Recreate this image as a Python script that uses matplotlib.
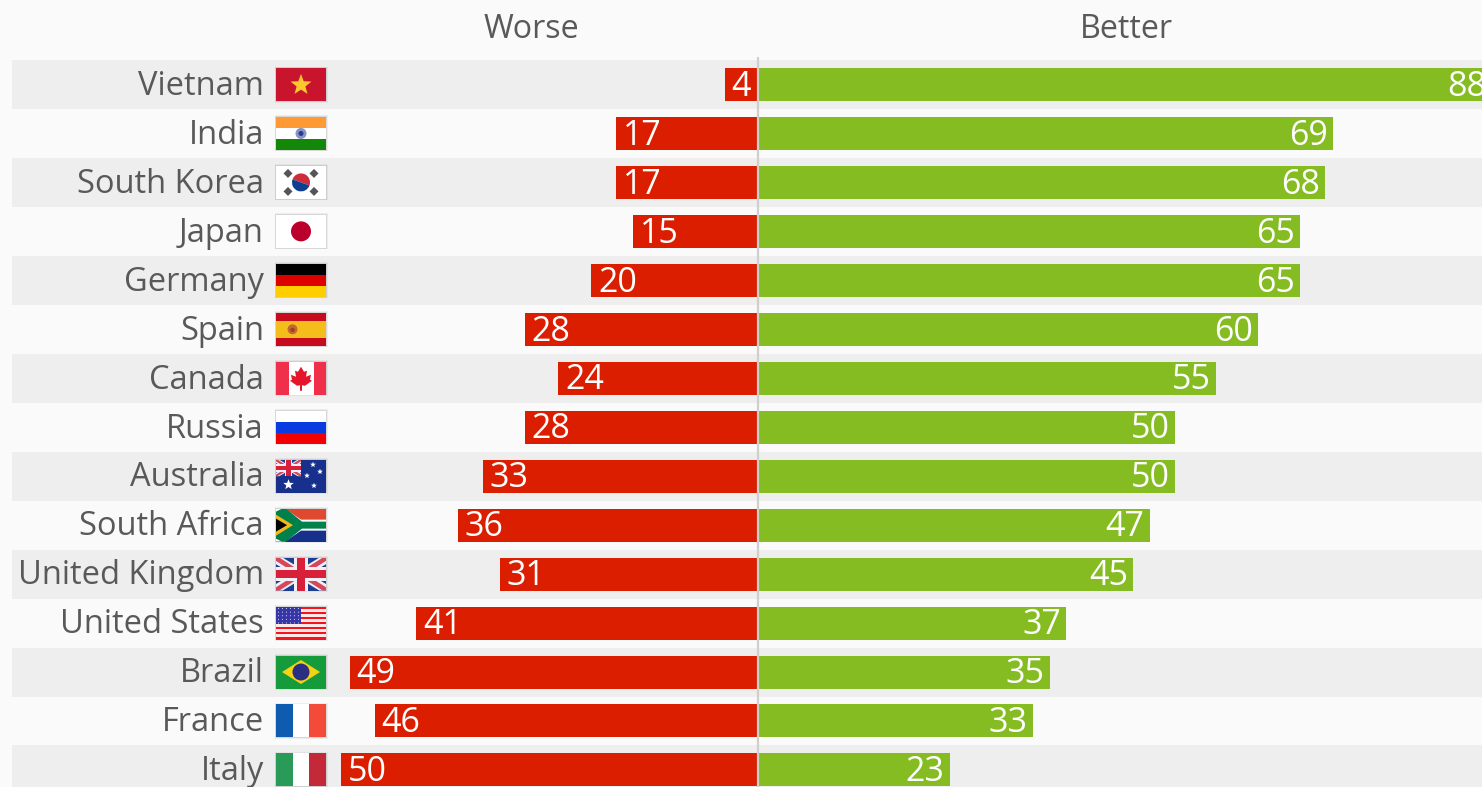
import math
import matplotlib
matplotlib.use("Agg")
import matplotlib.pyplot as plt
from matplotlib.patches import Rectangle, Polygon, Circle, Wedge

countries = ["Vietnam", "India", "South Korea", "Japan", "Germany", "Spain", "Canada", "Russia",
             "Australia", "South Africa", "United Kingdom", "United States", "Brazil", "France", "Italy"]
worse = [4, 17, 17, 15, 20, 28, 24, 28, 33, 36, 31, 41, 49, 46, 50]
better = [88, 69, 68, 65, 65, 60, 55, 50, 50, 47, 45, 37, 35, 33, 23]
headers = ["Worse", "Better"]

BG = "#fafafa"; BAND = "#eeeeee"; RED = "#dc1e00"; GREEN = "#85bc22"; TXT = "#595959"
W, H = 1482, 787
PX = 8.335          # pixels per value unit
X0 = 758            # zero line in pixels
ROW = 48.96; Y0 = 84.5
plt.rcParams["font.family"] = ["Open Sans", "DejaVu Sans"]

fig = plt.figure(figsize=(W / 100, H / 100), dpi=100, facecolor=BG)
ax = fig.add_axes([0, 0, 1, 1], facecolor=BG)
ax.set_xlim(-X0 / PX, (W - X0) / PX)
ax.set_ylim((H - Y0) / ROW, -Y0 / ROW)
ax.axis("off")
rows = list(range(len(countries)))

# alternating bands
for r in rows[::2]:
    ax.barh(r, (W - 12) / PX, left=(12 - X0) / PX, height=1.0, color=BAND, lw=0, zorder=1)

ax.barh(rows, [-v for v in worse], height=33 / ROW, color=RED, lw=0, zorder=2)
ax.barh(rows, better, height=33 / ROW, color=GREEN, lw=0, zorder=2)
ax.plot([0, 0], [(57 - Y0) / ROW, (H - Y0) / ROW], color="#cfcfcf", lw=1.6, zorder=3, solid_capstyle="butt")

FS = 23.5
VS = 24.5
for r, c, w, b in zip(rows, countries, worse, better):
    ax.annotate(c, (-X0 / PX, r), xytext=(264 * 0.72, -1.3), textcoords="offset points",
                ha="right", va="center", fontsize=FS, color=TXT, zorder=5)
    ax.annotate(str(w), (-w, r), xytext=(5, -1.6), textcoords="offset points",
                ha="left", va="center", fontsize=VS, color="white", zorder=5)
    ax.annotate(str(b), (b, r), xytext=(-3.7, -1.6), textcoords="offset points",
                ha="right", va="center", fontsize=VS, color="white", zorder=5, annotation_clip=False)

for name, cx in zip(headers, [531, 1126]):
    ax.text((cx - X0) / PX, (30 - Y0) / ROW, name, ha="center", va="center", fontsize=FS - 0.3, color=TXT)


# ---- flags (decorative glyphs, local 50x33 canvas) ----
def R(a, x, y, w, h, c, **k):
    a.add_patch(Rectangle((x, y), w, h, fc=c, lw=0, **k))

def P(a, pts, c):
    a.add_patch(Polygon(pts, closed=True, fc=c, lw=0))

def C(a, x, y, r, c):
    a.add_patch(Circle((x, y), r, fc=c, lw=0))

def star(a, x, y, r, c):
    pts = []
    for i in range(10):
        rr = r if i % 2 == 0 else r * 0.42
        t = -math.pi / 2 + i * math.pi / 5
        pts.append((x + rr * math.cos(t), y + rr * math.sin(t)))
    P(a, pts, c)

def vietnam(a):
    R(a, 0, 0, 50, 33, "#c8142c"); star(a, 25, 17, 11, "#fdc82f")

def india(a):
    R(a, 0, 0, 50, 11, "#ff9933"); R(a, 0, 11, 50, 11, "white"); R(a, 0, 22, 50, 11, "#138808")
    C(a, 25, 16.5, 5.5, "#8a94c4"); C(a, 25, 16.5, 2.5, "#2a3a8c")

def korea(a):
    R(a, 0, 0, 50, 33, "white")
    a.add_patch(Wedge((25, 16.5), 9, 200, 20, fc="#cd2e3a", lw=0))
    a.add_patch(Wedge((25, 16.5), 9, 20, 200, fc="#0f3f91", lw=0))
    for x, y in [(12, 7.5), (38, 7.5), (12, 25.5), (38, 25.5)]:
        P(a, [(x - 4.5, y), (x, y - 4.5), (x + 4.5, y), (x, y + 4.5)], "#555555")

def japan(a):
    R(a, 0, 0, 50, 33, "white"); C(a, 25, 16.5, 10, "#bc002d")

def germany(a):
    R(a, 0, 0, 50, 11, "#000000"); R(a, 0, 11, 50, 11, "#dd0000"); R(a, 0, 22, 50, 11, "#ffce00")

def spain(a):
    R(a, 0, 0, 50, 33, "#c60b1e"); R(a, 0, 8, 50, 17, "#f5bd1c")
    C(a, 16.5, 16.5, 5, "#c06a30"); C(a, 16.5, 17, 2.2, "#a83a28")

def canada(a):
    R(a, 0, 0, 50, 33, "white"); R(a, 0, 0, 12.5, 33, "#f0304a"); R(a, 37.5, 0, 12.5, 33, "#f0304a")
    P(a, [(25, 5), (28, 10), (31, 9), (30, 15), (35, 13), (34, 18), (36, 19), (29, 24), (26, 23.5),
          (26, 29), (24, 29), (24, 23.5), (21, 24), (14, 19), (16, 18), (15, 13), (20, 15), (19, 9), (22, 10)],
      "#e3162b")

def russia(a):
    R(a, 0, 0, 50, 11, "white"); R(a, 0, 11, 50, 11, "#0a3be0"); R(a, 0, 22, 50, 11, "#f00000")

def _union(a, w, h):
    R(a, 0, 0, w, h, "#1c3f94")
    t = h * 0.2
    P(a, [(0, 0), (t, 0), (w, h - t), (w, h), (w - t, h), (0, t)], "#f0f0f5")
    P(a, [(w, 0), (w - t, 0), (0, h - t), (0, h), (t, h), (w, t)], "#f0f0f5")
    P(a, [(0, 0), (t / 2, 0), (w, h - t / 2), (w, h), (w - t / 2, h), (0, t / 2)], "#d8465a")
    P(a, [(w, 0), (w - t / 2, 0), (0, h - t / 2), (0, h), (t / 2, h), (w, t / 2)], "#d8465a")
    R(a, w / 2 - t * 1.1, 0, t * 2.2, h, "#f0f0f5"); R(a, 0, h / 2 - t * 1.1, w, t * 2.2, "#f0f0f5")
    R(a, w / 2 - t * 0.65, 0, t * 1.3, h, "#d8203a"); R(a, 0, h / 2 - t * 0.65, w, t * 1.3, "#d8203a")

def australia(a):
    R(a, 0, 0, 50, 33, "#16308c"); _union(a, 25, 16.5)
    star(a, 12.5, 25, 5.5, "white")
    for x, y, r in [(37, 5, 3), (44, 12, 3), (31, 16, 3), (38, 26, 3)]:
        star(a, x, y, r, "white")

def south_africa(a):
    R(a, 0, 0, 50, 16.5, "#e0492f"); R(a, 0, 16.5, 50, 16.5, "#16308c")
    P(a, [(0, 0), (9, 0), (25, 11), (50, 11), (50, 22), (25, 22), (9, 33), (0, 33)], "white")
    P(a, [(0, 3), (6, 0), (10, 0), (26, 13), (50, 13), (50, 20), (26, 20), (10, 33), (6, 33), (0, 30)], "#00804a")
    P(a, [(0, 6), (17, 16.5), (0, 27)], "#f2b81c")
    P(a, [(0, 10), (11, 16.5), (0, 23)], "#000000")

def uk(a):
    _union(a, 50, 33)

def usa(a):
    for i in range(13):
        R(a, 0, i * 33 / 13, 50, 33 / 13, "#f4141e" if i % 2 == 0 else "#fde8e8")
    R(a, 0, 0, 25, 33 * 7 / 13, "#3636a8")
    for i in range(5):
        for j in range(6):
            C(a, 2.5 + j * 4, 2 + i * 3.6, 0.55, "#d8d8f0")

def brazil(a):
    R(a, 0, 0, 50, 33, "#169b3c")
    P(a, [(6, 16.5), (25, 4.5), (44, 16.5), (25, 28.5)], "#f5d312")
    C(a, 25, 16.5, 8.5, "#2a2f84")

def france(a):
    R(a, 0, 0, 17, 33, "#0f5bb0"); R(a, 17, 0, 16, 33, "white"); R(a, 33, 0, 17, 33, "#f44a3a")

def italy(a):
    R(a, 0, 0, 17, 33, "#2a9a58"); R(a, 17, 0, 16, 33, "white"); R(a, 33, 0, 17, 33, "#c4293a")

flags = [vietnam, india, korea, japan, germany, spain, canada, russia, australia, south_africa,
         uk, usa, brazil, france, italy]

for r, draw in zip(rows, flags):
    # soft shadow around flag
    for grow, al in [(1.5, 0.08), (0.7, 0.14)]:
        ax.add_patch(Rectangle(((276 - grow - X0) / PX, r - (16.5 + grow) / ROW), (50 + 2 * grow) / PX,
                               (33 + 2 * grow) / ROW, fc="#555555", alpha=al, lw=0, zorder=3))
    fa = ax.inset_axes([(276 - X0) / PX, r - 16.5 / ROW, 50 / PX, 33 / ROW], transform=ax.transData, zorder=4)
    fa.set_xlim(0, 50); fa.set_ylim(33, 0); fa.axis("off")
    draw(fa)

fig.savefig("out.png", dpi=100, facecolor=BG)
